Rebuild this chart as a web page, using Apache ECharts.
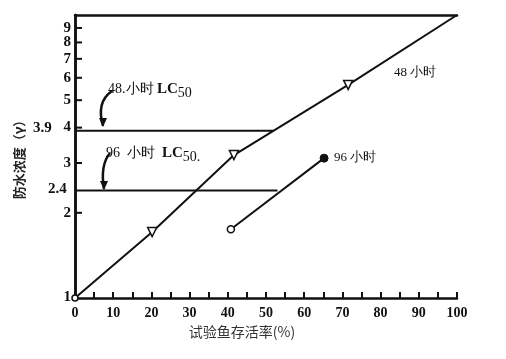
<!DOCTYPE html>
<html><head><meta charset="utf-8">
<script src="https://cdn.jsdelivr.net/npm/echarts@6/dist/echarts.min.js"></script>
<style>html,body{margin:0;padding:0;background:#fff}#c{width:506px;height:359px}</style>
</head><body><div id="c"></div>
<script>
// data
const line48 = [[0, 1], [20.2, 1.71], [41.6, 3.2], [71.5, 5.66], [100, 10]];
const line96 = [[40.8, 1.75], [65.2, 3.12]];
const lc48 = 3.9, lc48End = 52;
const lc96 = 2.4, lc96End = 53;
const yTicks = [1, 2, 3, 4, 5, 6, 7, 8, 9, 10];
const yLabels = [1, 2, 3, 4, 5, 6, 7, 8, 9];
const xName = '试验鱼存活率(%)';
const yName = '防水浓度（γ）';

const serif = '"Liberation Serif","DejaVu Serif",serif';
const chart = echarts.init(document.getElementById('c'), null, {renderer: 'canvas'});
const lineStyle = {color: '#111', width: 2};
const openStyle = {color: '#fff', borderColor: '#111', borderWidth: 1.5};
const data48 = line48.map((p, i) => {
  if (i === 0) return {value: p, symbol: 'circle', symbolSize: 6, symbolRotate: 0};
  if (i === line48.length - 1) return {value: p, symbol: 'none'};
  return {value: p};
});
const data96 = line96.map((p, i) => i === 0
  ? {value: p, symbol: 'circle', symbolSize: 7, itemStyle: openStyle}
  : {value: p, symbol: 'circle', symbolSize: 8, itemStyle: {color: '#111', borderColor: '#111'}});
chart.setOption({
  animation: false,
  grid: {left: 75, right: 49, top: 15, bottom: 61},
  xAxis: [{
    type: 'value', min: 0, max: 100, interval: 5,
    name: xName, nameLocation: 'middle', nameGap: 26,
    nameTextStyle: {fontFamily: '"Noto Sans CJK SC",sans-serif', fontSize: 14, color: '#333', padding: [0, 48, 0, 0]},
    axisLine: {show: true, lineStyle: {color: '#111', width: 2.5}},
    axisTick: {show: true, inside: true, length: 6, lineStyle: {color: '#111', width: 2}},
    axisLabel: {fontFamily: serif, fontSize: 14, fontWeight: 'bold', color: '#111', margin: 8,
      formatter: v => (v % 10 === 0 ? String(v) : '')},
    splitLine: {show: false}
  }, {
    type: 'value', min: 0, max: 100, position: 'top',
    axisLine: {show: true, lineStyle: {color: '#111', width: 2.5}},
    axisTick: {show: false}, axisLabel: {show: false}, splitLine: {show: false}
  }],
  yAxis: [{
    type: 'log', logBase: 10, min: 1, max: 10,
    name: yName, nameLocation: 'middle', nameGap: 49, nameRotate: 90,
    nameTextStyle: {fontFamily: '"Noto Sans CJK SC",sans-serif', fontSize: 13, color: '#222', fontWeight: 'bold'},
    axisLine: {show: true, lineStyle: {color: '#111', width: 2.5}},
    axisTick: {show: false},
    axisLabel: {show: false},
    splitLine: {show: false}, minorTick: {show: false}
  }, {
    type: 'value', min: 0, max: 1, position: 'right',
    axisLine: {show: true, lineStyle: {color: '#111', width: 2.5}},
    axisTick: {show: false}, axisLabel: {show: false}, splitLine: {show: false}
  }],
  series: [{
    type: 'line', data: data48, lineStyle,
    symbol: 'triangle', symbolSize: 9, symbolRotate: 180,
    itemStyle: openStyle, showAllSymbol: true, z: 3
  }, {
    type: 'line', data: data96, lineStyle, z: 3
  }, {
    type: 'line', data: [[0, lc48], [lc48End, lc48]], lineStyle, symbol: 'none', z: 2
  }, {
    type: 'line', data: [[0, lc96], [lc96End, lc96]], lineStyle, symbol: 'none', z: 2
  }]
});

const toPx = v => chart.convertToPixel({xAxisIndex: 0, yAxisIndex: 0}, [0, v]);
const p48 = toPx(lc48);
const p96 = toPx(lc96);
const txt = (x, y, t, extra) => ({type: 'text', x, y, style: Object.assign({text: t, fill: '#111', font: 'bold 14px ' + serif}, extra || {})});
function arrow(x1, y1, x2, y2, cx, cy) {
  return [{type: 'bezierCurve', shape: {x1, y1, x2, y2, cpx1: cx, cpy1: cy},
    style: {stroke: '#111', lineWidth: 2.5, fill: null}},
    {type: 'polygon', shape: {points: [[x2 - 4, y2 - 8], [x2 + 4, y2 - 8], [x2, y2 + 1]]}, style: {fill: '#111'}}];
}
const yTickMarks = yTicks.slice(1, -1).map(v => {
  const p = toPx(v);
  return {type: 'line', shape: {x1: p[0], y1: p[1], x2: p[0] + 7, y2: p[1]}, style: {stroke: '#111', lineWidth: 2}};
});
const yLabelMarks = yLabels.map(v => {
  const p = toPx(v);
  return {type: 'text', x: p[0] - 4, y: p[1] - (v === 1 ? 1 : 0), style: {text: String(v), fill: '#111', font: 'bold 15px ' + serif, align: 'right', verticalAlign: 'middle'}};
});
const rich = {a: {font: '14px ' + serif, fill: '#111'}, b: {font: 'bold 15px ' + serif, fill: '#111'}, s: {font: '14px ' + serif, fill: '#111', padding: [8, 0, 0, 0]}};
chart.setOption({
  graphic: [
    ...yTickMarks,
    ...yLabelMarks,
    {type: 'text', x: 108, y: 78, style: {rich, text: '{a|48.小时 }{b|LC}{s|50}'}},
    {type: 'text', x: 106, y: 142, style: {rich, text: '{a|96  小时  }{b|LC}{s|50.}'}},
    txt(394, 66, '48 小时', {font: '13px ' + serif}),
    txt(334, 151, '96 小时', {font: '13px ' + serif}),
    txt(33, p48[1] - 10, '3.9', {font: 'bold 15px ' + serif}),
    txt(48, p96[1] - 9, '2.4', {font: 'bold 15px ' + serif}),
    ...arrow(112, 91, 103, 126, 96, 102),
    ...arrow(110, 153, 104, 189, 100, 165)
  ]
});
</script></body></html>
